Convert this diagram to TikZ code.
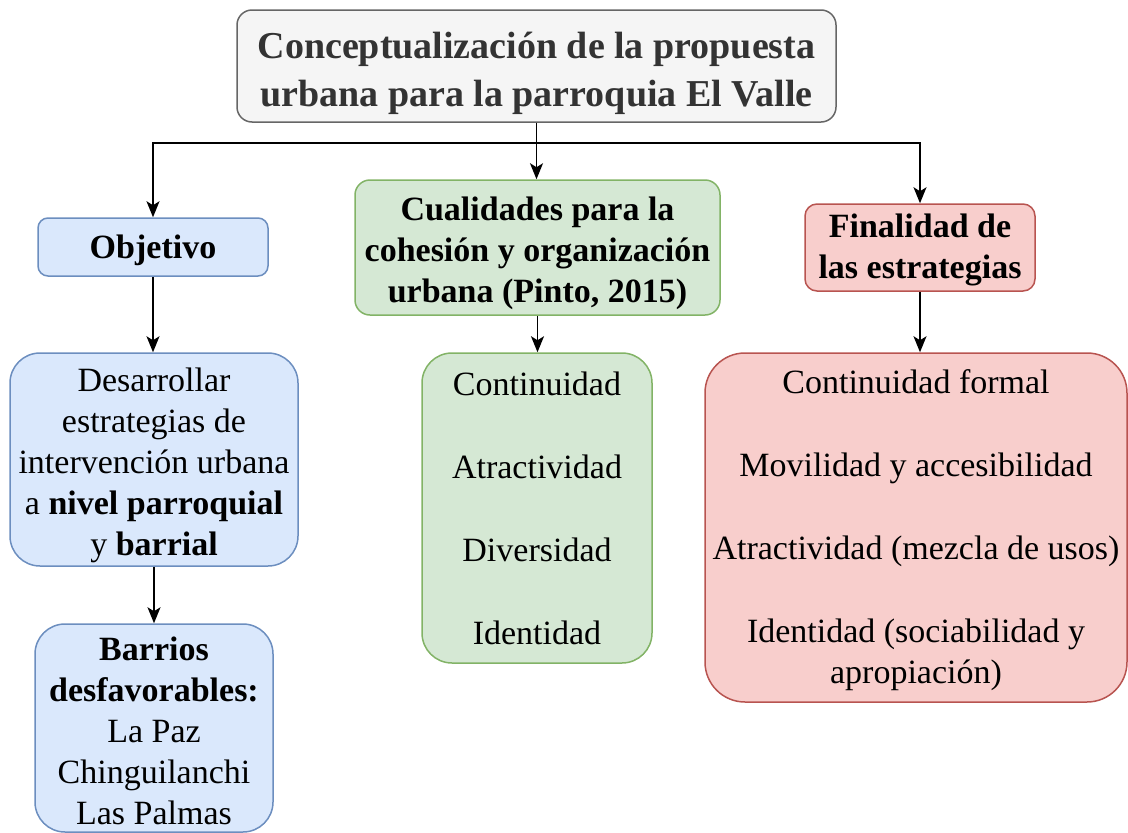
\documentclass[tikz,border=0pt]{standalone}
\usepackage{fontspec}
\setmainfont{Liberation Serif}
\usetikzlibrary{arrows.meta}
\definecolor{grayfill}{HTML}{F5F5F5}
\definecolor{graydraw}{HTML}{666666}
\definecolor{titletext}{HTML}{333333}
\definecolor{bluefill}{HTML}{DAE8FC}
\definecolor{bluedraw}{HTML}{6C8EBF}
\definecolor{greenfill}{HTML}{D5E8D4}
\definecolor{greendraw}{HTML}{82B366}
\definecolor{redfill}{HTML}{F8CECC}
\definecolor{reddraw}{HTML}{B85450}
\tikzset{
  box/.style={draw, line width=1.5pt, inner sep=0pt, anchor=center},
  titlebox/.style={box, fill=grayfill, draw=graydraw, rounded corners=15pt},
  bluebox/.style={box, fill=bluefill, draw=bluedraw},
  greenbox/.style={box, fill=greenfill, draw=greendraw},
  redbox/.style={box, fill=redfill, draw=reddraw},
  txt/.style={align=center, inner sep=0pt, anchor=center},
  titlefont/.style={txt, text=titletext, font=\fontsize{38}{48}\selectfont\bfseries},
  headfont/.style={txt, font=\fontsize{34}{41}\selectfont\bfseries},
  bodyfont/.style={txt, font=\fontsize{34}{41}\selectfont},
  arr/.style={line width=1.6pt, -{Stealth[length=16pt,width=13pt,inset=4pt]}},
}
\begin{document}
\begin{tikzpicture}[x=1pt,y=-1pt]
\useasboundingbox (0,0) rectangle (1128,833);
\node[titlebox, minimum width=599pt, minimum height=112pt] (top) at (536.5,66) {};
\node[titlefont] (toptxt) at ([yshift=-7pt]top.center)
  {Conceptualización de la propuesta\\urbana para la parroquia El Valle};
\node[bluebox, rounded corners=10pt, minimum width=230pt, minimum height=58pt] (obj) at (153,247) {};
\node[headfont] (objtxt) at ([yshift=-3pt]obj.center) {Objetivo};
\node[bluebox, rounded corners=30pt, minimum width=288pt, minimum height=213pt] (des) at (154,459.5) {};
\node[bodyfont] (destxt) at ([yshift=-6pt]des.center)
  {Desarrollar\\estrategias de\\intervención urbana\\a \textbf{nivel parroquial}\\y \textbf{barrial}};
\node[bluebox, rounded corners=30pt, minimum width=238pt, minimum height=208pt] (bar) at (154,728) {};
\node[bodyfont] (bartxt) at ([yshift=-3pt]bar.center)
  {\textbf{Barrios}\\\textbf{desfavorables:}\\La Paz\\Chinguilanchi\\Las Palmas};
\node[greenbox, rounded corners=15pt, minimum width=365pt, minimum height=135pt] (cua) at (537.5,247.5) {};
\node[headfont] (cuatxt) at ([yshift=-6pt]cua.center)
  {Cualidades para la\\cohesión y organización\\urbana (Pinto, 2015)};
\node[greenbox, rounded corners=30pt, minimum width=230pt, minimum height=310pt] (con) at (537,508) {};
\node[bodyfont] (contxt) at (con.center)
  {Continuidad\\[42pt]Atractividad\\[42pt]Diversidad\\[42pt]Identidad};
\node[redbox, rounded corners=12pt, minimum width=230pt, minimum height=87pt] (fin) at (920,247.5) {};
\node[headfont] (fintxt) at ([yshift=-2pt]fin.center)
  {Finalidad de\\las estrategias};
\node[redbox, rounded corners=40pt, minimum width=422pt, minimum height=349pt] (big) at (916,527.5) {};
\node[bodyfont] (bigtxt) at ([yshift=-3pt]big.center)
  {Continuidad formal\\[42pt]Movilidad y accesibilidad\\[42pt]Atractividad (mezcla de usos)\\[42pt]Identidad (sociabilidad y\\apropiación)};
\draw[arr] (top.south) -- ++(0,20) -| (obj.north);
\draw[arr] (top.south) -- ++(0,20) -| (fin.north);
\draw[arr] (top.south) -- (top.south |- cua.north);
\draw[arr] (obj.south) -- (obj.south |- des.north);
\draw[arr] (des.south) -- (des.south |- bar.north);
\draw[arr] (cua.south) -- (cua.south |- con.north);
\draw[arr] (fin.south) -- (fin.south |- big.north);
\end{tikzpicture}
\end{document}
